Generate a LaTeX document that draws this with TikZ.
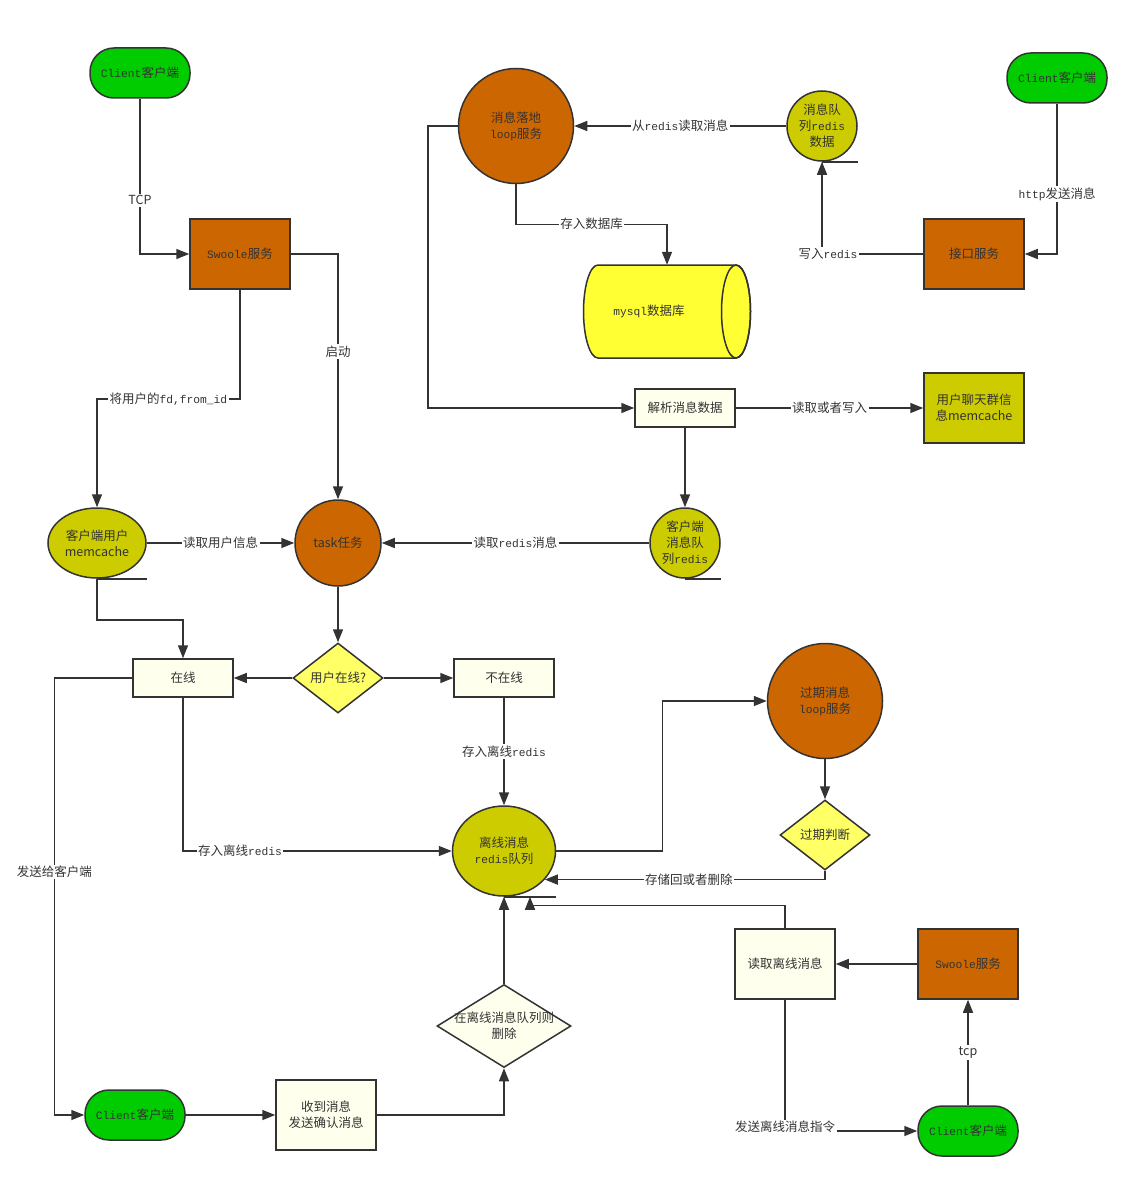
\documentclass[tikz,border=0pt]{standalone}
\usepackage{fontspec}
\setmainfont{Noto Sans CJK SC}
\newfontfamily\mono[Scale=0.9]{Liberation Mono}
\usetikzlibrary{arrows.meta,shapes.geometric}
\definecolor{lc}{HTML}{333333}
\definecolor{tc}{HTML}{333333}
\definecolor{cgreen}{HTML}{00CC00}
\definecolor{corange}{HTML}{CC6600}
\definecolor{colive}{HTML}{CCCC00}
\definecolor{cyel}{HTML}{FFFF66}
\definecolor{cmysql}{HTML}{FFFF33}
\definecolor{ccream}{HTML}{FFFFEE}
\newcommand\myfs{\fontsize{12.5}{16}\selectfont}
\begin{document}
\begin{tikzpicture}[x=1pt,y=-1pt,
  base/.style={draw=lc, line width=1.5pt, text=tc, font=\myfs, align=center, inner sep=1pt},
  client/.style={base, fill=cgreen, rounded corners=24pt, minimum width=100pt, minimum height=50pt},
  orbox/.style={base, fill=corange, minimum width=100pt, minimum height=70pt},
  olbox/.style={base, fill=colive, minimum width=100pt, minimum height=70pt},
  cream/.style={base, fill=ccream, minimum width=100pt, minimum height=38pt},
  creambig/.style={base, fill=ccream, minimum width=100pt, minimum height=70pt},
  ocirc/.style={base, circle, fill=corange, inner sep=0pt},
  ycirc/.style={base, circle, fill=colive, inner sep=0pt},
  yell/.style={base, ellipse, fill=colive, inner sep=0pt},
  dia/.style={base, diamond, fill=cyel, inner sep=0pt, aspect=1.3, minimum width=90pt, minimum height=70pt},
  conn/.style={draw=lc, line width=1.5pt},
  arr/.style={conn, -{Triangle[length=13pt,width=10pt]}},
  lbl/.style={fill=white, inner sep=1.5pt, text=tc, font=\myfs},
  tail/.style={conn}
]
\fill[white] (0,0) rectangle (1139,1188);
\useasboundingbox (0,0) rectangle (1139,1188);

% ---- nodes ----
\node[client] (client1) at (140,73) {{\mono Client}客户端};
\node[orbox] (swoole1) at (240,254) {{\mono Swoole}服务};
\node[ocirc, minimum size=115pt] (loop1) at (516,126) {消息落地\\{\mono loop}服务};
\node[ycirc, minimum size=70pt] (mq1) at (822,126) {消息队\\列{\mono redis}\\数据};
\node[client] (client2) at (1057,78) {{\mono Client}客户端};
\node[orbox] (api) at (974,254) {接口服务};
\node[minimum width=168pt, minimum height=93pt, inner sep=0pt] (mysql) at (667,311.5) {};
\filldraw[fill=cmysql, draw=lc, line width=1.5pt]
  (598,265) arc[start angle=90, end angle=270, x radius=14.5pt, y radius=46.5pt]
  -- (736,358) arc[start angle=270, end angle=450, x radius=14.5pt, y radius=46.5pt] -- cycle;
\draw[draw=lc, line width=1.5pt] (736,311.5) ellipse [x radius=14.5pt, y radius=46.5pt];
\node[text=tc, font=\myfs] (mysqltext) at (649,311.5) {{\mono mysql}数据库};
\node[cream] (parse) at (685,408) {解析消息数据};
\node[olbox] (usermc) at (974,408) {用户聊天群信\\息memcache};
\node[yell, minimum width=98pt, minimum height=70pt] (cmc) at (97,543) {客户端用户\\memcache};
\node[ocirc, minimum size=86pt] (task) at (338,543) {task任务};
\node[ycirc, minimum size=70pt] (cmq) at (685,543) {客户端\\消息队\\列{\mono redis}};
\node[cream] (online) at (183,678) {在线};
\node[dia] (uo) at (338,678) {用户在线?};
\node[cream] (offline) at (504,678) {不在线};
\node[ocirc, minimum size=115pt] (eloop) at (825,701) {过期消息\\{\mono loop}服务};
\node[dia] (edia) at (825,835) {过期判断};
\node[yell, minimum width=103pt, minimum height=90pt] (oredis) at (504,851) {离线消息\\{\mono redis}队列};
\node[creambig] (rd) at (785,964) {读取离线消息};
\node[orbox] (swoole2) at (968,964) {{\mono Swoole}服务};
\node[base, diamond, fill=ccream, inner sep=0pt, minimum width=134pt, minimum height=83pt,
      label={[align=center, text=tc, font=\myfs]center:在离线消息队列则\\删除}] (ddia) at (504,1026) {};
\node[client] (client3) at (135,1115) {{\mono Client}客户端};
\node[creambig] (recv) at (326,1115) {收到消息\\发送确认消息};
\node[client] (client4) at (968,1131) {{\mono Client}客户端};

% ---- tails of the storage shapes ----
\draw[tail] (mq1.south) -- (mq1.south -| mq1.east);
\draw[tail] (cmc.south) -- ([xshift=50pt]cmc.south);
\draw[tail] (cmq.south) -- ([xshift=36pt]cmq.south);
\draw[tail] (oredis.south) -- ([xshift=52pt]oredis.south);
\coordinate (otail) at ([xshift=26pt]oredis.south);

% ---- connectors ----
\draw[arr] (client1.south) |- (swoole1.west) node[lbl, pos=0.327] {TCP};
\draw[arr] (swoole1.east) -| (task.north) node[lbl, pos=0.699] {启动};
\draw[arr] (swoole1.south) -- ++(0,109) -| (cmc.north) node[lbl, pos=0.25] {将用户的{\mono fd,from\_id}};
\draw[arr] (cmc.east) -- (task.west) node[lbl, midway] {读取用户信息};
\draw[arr] (cmq.west) -- (task.east) node[lbl, midway] {读取{\mono redis}消息};
\draw[arr] (parse.south) -- (cmq.north);
\draw[arr] (loop1.west) -- ++(-30,0) |- (parse.west);
\draw[arr] (parse.east) -- (usermc.west) node[lbl, midway] {读取或者写入};
\draw[arr] (loop1.south) -- ++(0,40) -| (mysql.north) node[lbl, pos=0.25] {存入数据库};
\draw[arr] (mq1.west) -- (loop1.east) node[lbl, midway] {从{\mono redis}读取消息};
\draw[arr] (api.west) -| (mq1.south) node[lbl, pos=0.47] {写入{\mono redis}};
\draw[arr] (client2.south) |- (api.east) node[lbl, pos=0.3] {{\mono http}发送消息};
\draw[arr] (cmc.south) -- ++(0,41) -| (online.north);
\draw[arr] (task.south) -- (uo.north);
\draw[arr] (uo.west) -- (online.east);
\draw[arr] (uo.east) -- (offline.west);
\draw[arr] (offline.south) -- (oredis.north) node[lbl, midway] {存入离线{\mono redis}};
\draw[arr] (online.south) |- (oredis.west) node[lbl, pos=0.606] {存入离线{\mono redis}};
\draw[arr] (online.west) -- ++(-78,0) |- (client3.west) node[lbl, pos=0.222] {发送给客户端};
\draw[arr] (oredis.east) -- ++(106,0) |- (eloop.west);
\draw[arr] (eloop.south) -- (edia.north);
\draw[arr] (edia.south) |- (oredis.-35) node[lbl, pos=0.743] {存储回或者删除};
\draw[arr] (rd.north) -- ++(0,-23) -| (otail);
\draw[arr] (swoole2.west) -- (rd.east);
\draw[arr] (rd.south) |- (client4.west) node[lbl, pos=0.485] {发送离线消息指令};
\draw[arr] (client4.north) -- (swoole2.south) node[lbl, midway] {tcp};
\draw[arr] (client3.east) -- (recv.west);
\draw[arr] (recv.east) -| (ddia.south);
\draw[arr] (ddia.north) -- (oredis.south);
\end{tikzpicture}
\end{document}
